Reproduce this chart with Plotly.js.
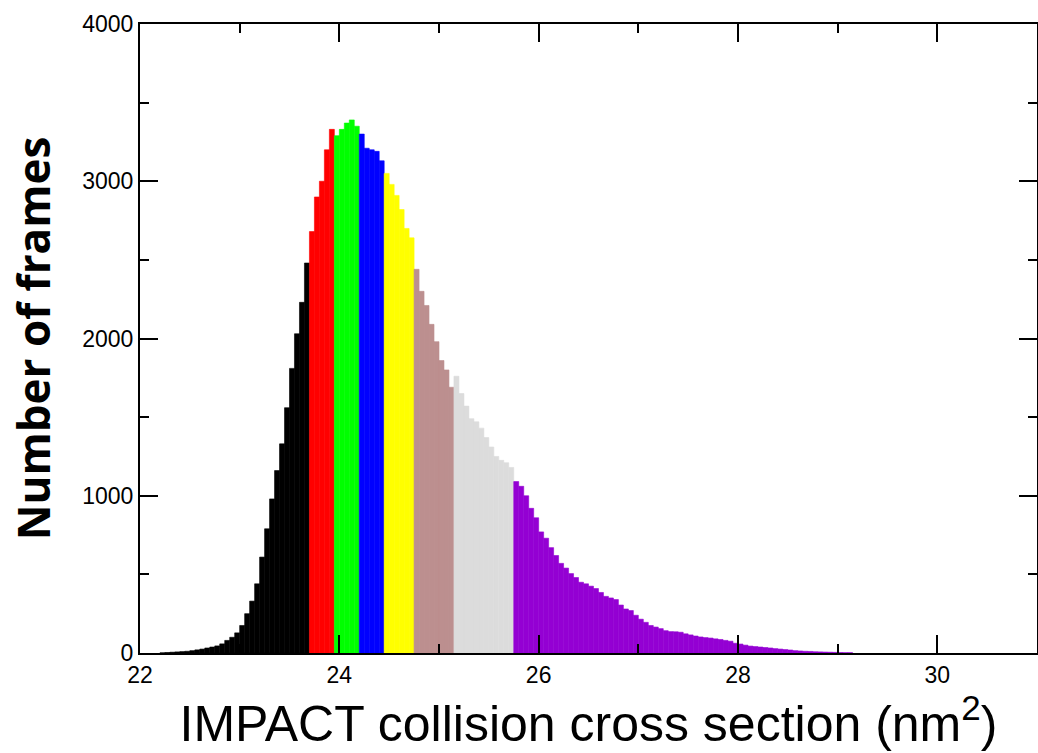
<!DOCTYPE html>
<html>
<head>
<meta charset="utf-8">
<script src="https://cdn.plot.ly/plotly-3.0.1.min.js"></script>
<style>html,body{margin:0;padding:0;background:#fff;}#chart{width:1038px;height:753px;}</style>
</head>
<body>
<div id="chart"></div>
<script>
// Histogram bin left edges (nm^2), bin width 0.05
var binWidth = 0.05;
var binLeft = [
 22.20,22.25,22.30,22.35,22.40,22.45,22.50,22.55,22.60,22.65,
 22.70,22.75,22.80,22.85,22.90,22.95,23.00,23.05,23.10,23.15,
 23.20,23.25,23.30,23.35,23.40,23.45,23.50,23.55,23.60,23.65,
 23.70,23.75,23.80,23.85,23.90,23.95,24.00,24.05,24.10,24.15,
 24.20,24.25,24.30,24.35,24.40,24.45,24.50,24.55,24.60,24.65,
 24.70,24.75,24.80,24.85,24.90,24.95,25.00,25.05,25.10,25.15,
 25.20,25.25,25.30,25.35,25.40,25.45,25.50,25.55,25.60,25.65,
 25.70,25.75,25.80,25.85,25.90,25.95,26.00,26.05,26.10,26.15,
 26.20,26.25,26.30,26.35,26.40,26.45,26.50,26.55,26.60,26.65,
 26.70,26.75,26.80,26.85,26.90,26.95,27.00,27.05,27.10,27.15,
 27.20,27.25,27.30,27.35,27.40,27.45,27.50,27.55,27.60,27.65,
 27.70,27.75,27.80,27.85,27.90,27.95,28.00,28.05,28.10,28.15,
 28.20,28.25,28.30,28.35,28.40,28.45,28.50,28.55,28.60,28.65,
 28.70,28.75,28.80,28.85,28.90,28.95,29.00,29.05,29.10
];
// Number of frames per bin
var frames = [
 1,3,5,7,9,11,15,20,25,32,
 38,45,58,80,100,128,175,250,330,440,
 610,790,980,1160,1330,1560,1810,2030,2230,2480,
 2680,2900,3000,3200,3330,3290,3330,3370,3390,3350,
 3300,3210,3200,3190,3130,3050,2980,2910,2820,2700,
 2640,2440,2300,2210,2090,1980,1860,1800,1690,1760,
 1650,1570,1490,1470,1430,1370,1310,1250,1225,1210,
 1180,1090,1060,1000,920,860,770,730,670,620,
 570,540,505,480,450,440,425,410,385,360,
 350,340,305,280,270,240,215,195,175,165,
 155,142,136,135,132,122,115,108,102,98,
 95,90,86,80,75,62,57,50,44,41,
 38,35,32,28,25,22,19,15,13,11,
 10,8,7,6,5,4,3,2,2
];
// Cluster boundaries (nm^2) and their colours
var clusterCuts = [23.70, 23.95, 24.20, 24.45, 24.75, 25.15, 25.75];
var clusterColors = ["#000000","#ff0000","#00ff00","#0000ff","#ffff00","#bc8f8f","#dcdcdc","#9400d3"];
var xTicks = [22, 24, 26, 28, 30];
var yTicks = [0, 1000, 2000, 3000, 4000];

var traces = [];
for (var k = 0; k < clusterColors.length; k++) {
  var lo = k === 0 ? -Infinity : clusterCuts[k-1];
  var hi = k === clusterCuts.length ? Infinity : clusterCuts[k];
  var xs = [], ys = [];
  for (var i = 0; i < binLeft.length; i++) {
    if (binLeft[i] >= lo - 1e-9 && binLeft[i] < hi - 1e-9) {
      xs.push(binLeft[i] + binWidth/2);
      ys.push(frames[i]);
    }
  }
  traces.push({
    type: 'bar', x: xs, y: ys, width: binWidth,
    marker: {color: clusterColors[k], line: {color: clusterColors[k], width: 0.6}},
    showlegend: false, hoverinfo: 'x+y'
  });
}

var tickFont = {family: 'Liberation Sans, Arial, sans-serif', size: 23, color: '#000'};
var layout = {
  width: 1038, height: 753,
  margin: {l: 140, r: 1, t: 24, b: 100, pad: 0},
  paper_bgcolor: '#fff', plot_bgcolor: '#fff',
  barmode: 'overlay', bargap: 0,
  xaxis: {
    range: [22, 31], tickvals: xTicks, ticktext: xTicks.map(String),
    ticks: 'inside', ticklen: 18, tickwidth: 2, tickcolor: '#000',
    minor: {dtick: 1, tick0: 22, ticks: 'inside', ticklen: 9, tickwidth: 2, tickcolor: '#000'},
    showline: true, linecolor: '#000', linewidth: 2, mirror: 'ticks',
    showgrid: false, zeroline: false, tickfont: tickFont,
    title: {text: 'IMPACT collision cross section (nm<sup>2</sup>)', standoff: 10,
      font: {family: 'Liberation Sans Narrow, Arial Narrow, Liberation Sans, sans-serif', size: 50, color: '#000'}}
  },
  yaxis: {
    range: [0, 4000], tickvals: yTicks, ticktext: yTicks.map(String),
    ticks: 'inside', ticklen: 18, tickwidth: 2, tickcolor: '#000',
    minor: {dtick: 500, tick0: 0, ticks: 'inside', ticklen: 9, tickwidth: 2, tickcolor: '#000'},
    showline: true, linecolor: '#000', linewidth: 2, mirror: 'ticks',
    showgrid: false, zeroline: false, tickfont: tickFont,
    title: {text: 'Number of frames', standoff: 18,
      font: {family: 'Open Sans, sans-serif', size: 44, color: '#000', weight: 'bold'}}
  }
};
Plotly.newPlot('chart', traces, layout, {displayModeBar: false, staticPlot: true});
</script>
</body>
</html>
